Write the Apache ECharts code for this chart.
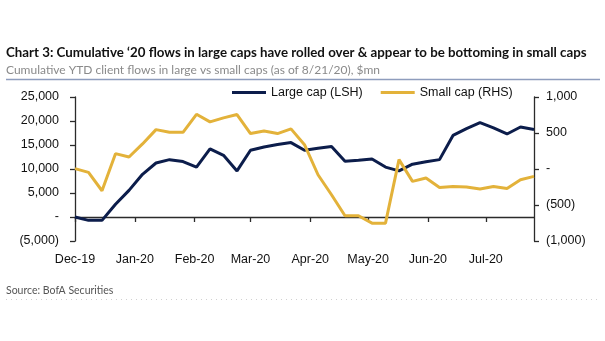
<!DOCTYPE html>
<html>
<head>
<meta charset="utf-8">
<script src="https://cdn.jsdelivr.net/npm/echarts@6/dist/echarts.min.js"></script>
<style>
html,body{margin:0;padding:0;background:#fff;}
#chart{width:605px;height:341px;}
</style>
</head>
<body>
<div id="chart"></div>
<script>
// Weekly observation dates
const dates = ['2019-12-27','2020-01-03','2020-01-10','2020-01-17','2020-01-24','2020-01-31',
  '2020-02-07','2020-02-14','2020-02-21','2020-02-28','2020-03-06','2020-03-13','2020-03-20','2020-03-27',
  '2020-04-03','2020-04-10','2020-04-17','2020-04-24','2020-05-01','2020-05-08','2020-05-15','2020-05-22','2020-05-29',
  '2020-06-05','2020-06-12','2020-06-19','2020-06-26','2020-07-03','2020-07-10','2020-07-17','2020-07-24','2020-07-31',
  '2020-08-07','2020-08-14','2020-08-21'];
// Large cap cumulative flows ($mn, left axis)
const largeCap = [0,-700,-700,2650,5550,8900,11250,11950,11550,10400,
  14200,12850,9600,13900,14600,15100,15500,13900,14300,14700,
  11600,11800,12100,10400,9600,11000,11500,11950,17000,18400,
  19650,18550,17300,18750,18250];
// Small cap cumulative flows ($mn, right axis)
const smallCap = [5,-47,-302,213,167,348,547,510,510,760,
  654,710,756,492,529,492,557,338,-80,-358,
  -650,-650,-752,-752,130,-172,-126,-256,-242,-251,
  -279,-242,-270,-149,-103];
// Month tick positions and labels
const monthTicks = ['2019-12-27','2020-01-27','2020-02-27','2020-03-27','2020-04-27','2020-05-27','2020-06-27','2020-07-27'];
const monthLabels = ['Dec-19','Jan-20','Feb-20','Mar-20','Apr-20','May-20','Jun-20','Jul-20'];

const seriesNames = ['Large cap (LSH)','Small cap (RHS)'];
const titleText = 'Chart 3: Cumulative \u201820 flows in large caps have rolled over & appear to be bottoming in small caps';
const subtitleText = 'Cumulative YTD client flows in large vs small caps (as of 8/21/20), $mn';
const sourceText = 'Source: BofA Securities';

const NAVY = '#0c1d4b';
const GOLD = '#e3b23a';
const AXIS = '#2b2b2b';
const SANS = '"Liberation Sans", Arial, sans-serif';

function fmtNum(v){
  if (v === 0) return '-';
  const s = Math.abs(v).toLocaleString('en-US');
  return v < 0 ? '(' + s + ')' : s;
}
const toT = d => Date.UTC(+d.slice(0,4), +d.slice(5,7)-1, +d.slice(8,10));
const tickTimes = monthTicks.map(toT);
const xTimes = dates.map(toT);

const chart = echarts.init(document.getElementById('chart'), null, {renderer:'canvas'});
chart.setOption({
  backgroundColor:'#ffffff',
  animation:false,
  grid:{left:75, right:71, top:97, bottom:100, containLabel:false},
  legend:{
    left:227, top:81, itemWidth:34, itemHeight:3, itemGap:18,
    icon:'rect',
    data:seriesNames,
    textStyle:{fontFamily:SANS, fontSize:12.5, color:'#111'}
  },
  xAxis:{
    type:'value',
    min:xTimes[0],
    max:xTimes[xTimes.length-1],
    axisLine:{show:true, onZero:true, lineStyle:{color:AXIS, width:1.3}},
    axisTick:{show:true, length:5, lineStyle:{color:AXIS, width:1.3}, customValues:tickTimes},
    axisLabel:{
      customValues:tickTimes, margin:12, fontFamily:SANS, fontSize:12.5, color:'#111',
      formatter:function(v){ const i = tickTimes.indexOf(v); return i >= 0 ? monthLabels[i] : ''; }
    },
    splitLine:{show:false}
  },
  yAxis:[
    {type:'value', min:-5000, max:25000, interval:5000, position:'left',
     axisLine:{show:true, lineStyle:{color:AXIS, width:1.3}},
     axisTick:{show:true, length:5, lineStyle:{color:AXIS, width:1.3}},
     axisLabel:{margin:16, fontFamily:SANS, fontSize:12.5, color:'#111', formatter:fmtNum},
     splitLine:{show:false}},
    {type:'value', min:-1000, max:1000, interval:500, position:'right',
     axisLine:{show:true, lineStyle:{color:AXIS, width:1.3}},
     axisTick:{show:true, length:5, lineStyle:{color:AXIS, width:1.3}},
     axisLabel:{margin:12, fontFamily:SANS, fontSize:12.5, color:'#111', formatter:fmtNum},
     splitLine:{show:false}}
  ],
  series:[
    {name:seriesNames[0], type:'line', yAxisIndex:0, showSymbol:false, symbol:'none',
     data:xTimes.map((t,i)=>[t, largeCap[i]]),
     lineStyle:{color:NAVY, width:3}, itemStyle:{color:NAVY}},
    {name:seriesNames[1], type:'line', yAxisIndex:1, showSymbol:false, symbol:'none',
     data:xTimes.map((t,i)=>[t, smallCap[i]]),
     lineStyle:{color:GOLD, width:3}, itemStyle:{color:GOLD}}
  ],
  graphic:[
    {type:'text', left:6, top:46, style:{text:titleText, font:'bold 13.3px Lato, sans-serif', fill:'#111'}},
    {type:'text', left:6, top:64, style:{text:subtitleText, font:'12px Lato, sans-serif', fill:'#8a8a8a'}},
    {type:'line', shape:{x1:6, y1:79.5, x2:600, y2:79.5}, style:{stroke:'#8e9dbd', lineWidth:1.5}},
    {type:'text', left:6, top:285, style:{text:sourceText, font:'10.5px Lato, sans-serif', fill:'#555'}},
    {type:'line', shape:{x1:6, y1:299.5, x2:600, y2:299.5}, style:{stroke:'#d0d0d0', lineWidth:1, lineDash:[1,4]}}
  ]
});
</script>
</body>
</html>
